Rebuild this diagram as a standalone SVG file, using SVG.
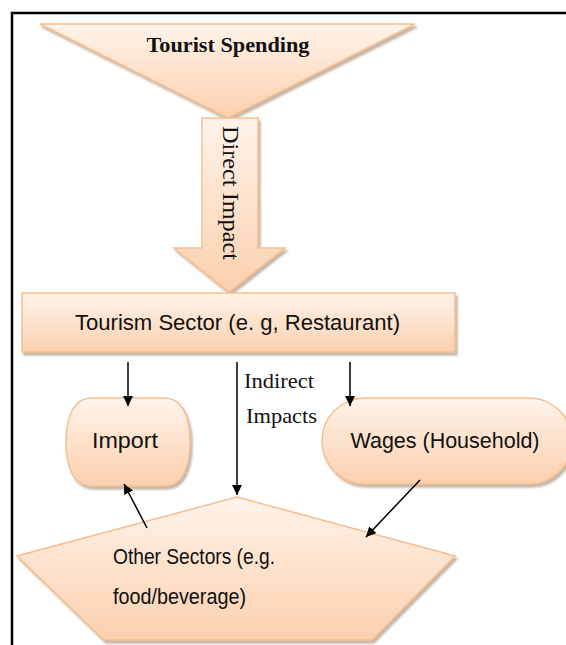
<svg xmlns="http://www.w3.org/2000/svg" width="566" height="645" viewBox="0 0 566 645">
<defs>
<linearGradient id="g" x1="0" y1="0" x2="0" y2="1">
<stop offset="0" stop-color="#FFF3EA"/>
<stop offset="1" stop-color="#FBD0AE"/>
</linearGradient>
<filter id="sh" x="-10%" y="-10%" width="130%" height="130%">
<feDropShadow dx="2" dy="3" stdDeviation="1" flood-color="#7a5a40" flood-opacity="0.45"/>
</filter>
<marker id="ah" viewBox="0 0 10 10" refX="10" refY="5" markerWidth="10" markerHeight="10" markerUnits="userSpaceOnUse" orient="auto">
<path d="M0,0 L10,5 L0,10 Z" fill="#000"/>
</marker>
<style>
.shape{fill:url(#g);stroke:#F8BE8E;stroke-width:1.5;filter:url(#sh);}
.sans{font-family:"Liberation Sans","DejaVu Sans",sans-serif;fill:#111;font-size:22px;}
.serif{font-family:"Liberation Serif","DejaVu Serif",serif;fill:#111;}
.conn{stroke:#000;stroke-width:1.5;fill:none;marker-end:url(#ah);}
</style>
</defs>
<rect width="566" height="645" fill="#fff"/>
<g id="border" stroke="#000" stroke-width="2.5" fill="none">
<path d="M12,645 V13 H566"/>
</g>
<g id="tourist-spending">
<polygon class="shape" points="40,24 415,24 228,118"/>
<text class="serif" x="228" y="52" font-size="21" font-weight="bold" text-anchor="middle" textLength="163" lengthAdjust="spacingAndGlyphs">Tourist Spending</text>
</g>
<g id="direct-impact">
<polygon class="shape" points="202,118 258,118 258,248 285,248 229,292 174,248 202,248"/>
<text class="serif" transform="translate(223,193) rotate(90)" font-size="23" text-anchor="middle" textLength="134" lengthAdjust="spacingAndGlyphs">Direct Impact</text>
</g>
<g id="tourism-sector">
<rect class="shape" x="22" y="293" width="433" height="59"/>
<text class="sans" x="75" y="330" textLength="325" lengthAdjust="spacingAndGlyphs">Tourism Sector (e. g, Restaurant)</text>
</g>
<g id="import">
<path class="shape" d="M92,398 H164 C184,398 190,420 190,442 C190,464 184,486 164,486 H92 C72,486 66,464 66,442 C66,420 72,398 92,398 Z"/>
<text class="sans" x="125" y="448" text-anchor="middle" textLength="66" lengthAdjust="spacingAndGlyphs">Import</text>
</g>
<g id="wages">
<rect class="shape" x="322" y="398" width="250" height="86" rx="43"/>
<text class="sans" x="445" y="448" text-anchor="middle" textLength="189" lengthAdjust="spacingAndGlyphs">Wages (Household)</text>
</g>
<g id="other-sectors">
<polygon class="shape" points="237,497 455,556 372,640 104,640 17,556"/>
<text class="sans" x="113" y="564" textLength="162" lengthAdjust="spacingAndGlyphs">Other Sectors (e.g.</text>
<text class="sans" x="113" y="604" textLength="133" lengthAdjust="spacingAndGlyphs">food/beverage)</text>
</g>
<g id="connectors">
<line class="conn" x1="128" y1="362" x2="128" y2="406"/>
<line class="conn" x1="237" y1="362" x2="237" y2="495"/>
<line class="conn" x1="350" y1="362" x2="350" y2="406"/>
<line class="conn" x1="147" y1="528" x2="124" y2="484"/>
<line class="conn" x1="420" y1="480" x2="366" y2="537"/>
</g>
<g id="labels">
<text class="serif" x="244" y="388" font-size="21" textLength="70" lengthAdjust="spacingAndGlyphs">Indirect</text>
<text class="serif" x="246" y="423" font-size="21" textLength="71" lengthAdjust="spacingAndGlyphs">Impacts</text>
</g>
</svg>
